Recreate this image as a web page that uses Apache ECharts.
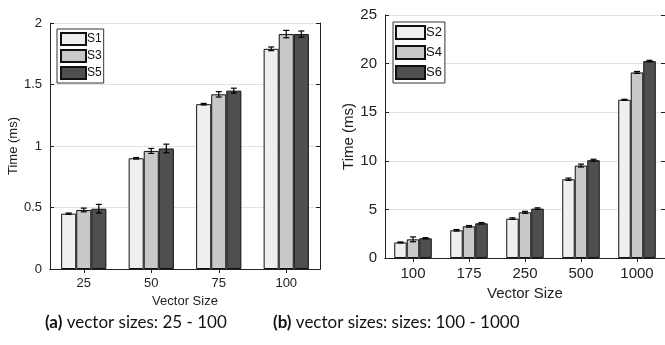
<!DOCTYPE html>
<html>
<head>
<meta charset="utf-8">
<script src="https://cdn.jsdelivr.net/npm/echarts@6/dist/echarts.min.js"></script>
<style>
  html, body { margin: 0; padding: 0; background: #fff; }
  #chart { width: 665px; height: 345px; }
</style>
</head>
<body>
<div id="chart"></div>
<script>
// (a) vector sizes 25 - 100
const catsA = ['25', '50', '75', '100']
const s1 = [0.45, 0.90, 1.34, 1.79]
const s3 = [0.48, 0.96, 1.42, 1.91]
const s5 = [0.49, 0.98, 1.45, 1.91]
const s1Err = [0.005, 0.006, 0.006, 0.015]
const s3Err = [0.015, 0.02, 0.022, 0.03]
const s5Err = [0.035, 0.035, 0.02, 0.025]

// (b) vector sizes 100 - 1000
const catsB = ['100', '175', '250', '500', '1000']
const s2 = [1.6, 2.85, 4.05, 8.1, 16.28]
const s4 = [1.92, 3.26, 4.7, 9.51, 19.09]
const s6 = [2.03, 3.57, 5.08, 10.06, 20.26]
const s2Err = [0.05, 0.08, 0.08, 0.12, 0.05]
const s4Err = [0.25, 0.08, 0.1, 0.15, 0.1]
const s6Err = [0.06, 0.08, 0.08, 0.1, 0.08]

const colors = ['#efefef', '#c8c8c8', '#4f4f4f']
const gapPct = 0.33

const chart = echarts.init(document.getElementById('chart'))

function barSeries(name, data, idx, axis) {
  return {
    name: name,
    type: 'bar',
    xAxisIndex: axis,
    yAxisIndex: axis,
    data: data,
    barGap: '0%',
    barCategoryGap: '33%',
    itemStyle: { color: colors[idx], borderColor: '#111', borderWidth: 1 },
    emphasis: { disabled: true },
    z: 2
  }
}

// error bars drawn on top of the bar at slot idx (0..2)
function errSeries(values, errs, idx, axis, capW) {
  return {
    type: 'custom',
    xAxisIndex: axis,
    yAxisIndex: axis,
    data: values.map((v, i) => [i, v, errs[i]]),
    z: 5,
    silent: true,
    renderItem: function (params, api) {
      const i = api.value(0)
      const v = api.value(1)
      const e = api.value(2)
      const band = api.size([1, 0])[0]
      const bw = band * (1 - gapPct) / 3
      const c = api.coord([i, v])
      const x = c[0] + (idx - 1) * bw
      const hi = api.coord([i, v + e])[1]
      const lo = api.coord([i, v - e])[1]
      const st = { stroke: '#000', lineWidth: 1.2 }
      return {
        type: 'group',
        children: [
          { type: 'line', shape: { x1: x, y1: hi, x2: x, y2: lo }, style: st },
          { type: 'line', shape: { x1: x - capW, y1: hi, x2: x + capW, y2: hi }, style: st },
          { type: 'line', shape: { x1: x - capW, y1: lo, x2: x + capW, y2: lo }, style: st }
        ]
      }
    }
  }
}

const axisLine = { show: true, lineStyle: { color: '#222', width: 1 } }
const font = 'Liberation Sans'

function xAxes(cats, grid, size, gap) {
  return [
    {
      type: 'category', gridIndex: grid, data: cats, position: 'bottom',
      axisLine: axisLine,
      axisTick: { show: true, inside: true, alignWithLabel: true, length: 4, lineStyle: { color: '#222' } },
      axisLabel: { color: '#222', fontFamily: font, fontSize: size, margin: 8 },
      name: 'Vector Size', nameLocation: 'middle', nameGap: gap,
      nameTextStyle: { color: '#222', fontFamily: font, fontSize: size }
    },
    {
      type: 'category', gridIndex: grid, data: cats, position: 'top',
      axisLine: axisLine,
      axisTick: { show: true, inside: true, alignWithLabel: true, length: 4, lineStyle: { color: '#222' } },
      axisLabel: { show: false }
    }
  ]
}

function yAxes(grid, max, interval, size, gap) {
  return [
    {
      type: 'value', gridIndex: grid, min: 0, max: max, interval: interval, position: 'left',
      axisLine: axisLine,
      axisTick: { show: true, inside: true, length: 4, lineStyle: { color: '#222' } },
      axisLabel: { color: '#222', fontFamily: font, fontSize: size, margin: 8 },
      splitLine: { show: true, lineStyle: { color: '#e2e2e2', width: 1 } },
      name: 'Time (ms)', nameLocation: 'middle', nameGap: gap,
      nameTextStyle: { color: '#222', fontFamily: font, fontSize: size }
    },
    {
      type: 'value', gridIndex: grid, min: 0, max: max, interval: interval, position: 'right',
      axisLine: axisLine,
      axisTick: { show: true, inside: true, length: 4, lineStyle: { color: '#222' } },
      axisLabel: { show: false },
      splitLine: { show: false }
    }
  ]
}

const xa = xAxes(catsA, 0, 13, 25).concat(xAxes(catsB, 1, 15, 28))
const ya = yAxes(0, 2, 0.5, 13, 28).concat(yAxes(1, 25, 5, 15, 24))

const legendBase = {
  orient: 'vertical',
  backgroundColor: '#fff',
  borderColor: '#333',
  borderWidth: 1,
  borderRadius: 0,
  icon: 'rect',
  selectedMode: false
}

const option = {
  animation: false,
  backgroundColor: '#fff',
  grid: [
    { left: 50, right: 345, top: 23, bottom: 76 },
    { left: 385, right: -2, top: 15, bottom: 87 }
  ],
  xAxis: [xa[0], xa[2], xa[1], xa[3]],
  yAxis: [ya[0], ya[2], ya[1], ya[3]],
  legend: [
    Object.assign({}, legendBase, {
      data: ['S1', 'S3', 'S5'], left: 57, top: 29,
      itemWidth: 25, itemHeight: 12, itemGap: 3, padding: [3, 2, 3, 3],
      textStyle: { fontFamily: font, fontSize: 12, color: '#111', padding: [0, 0, 0, -4] }
    }),
    Object.assign({}, legendBase, {
      data: ['S2', 'S4', 'S6'], left: 393, top: 22,
      itemWidth: 29, itemHeight: 13, itemGap: 5, padding: [3, 3, 3, 2],
      textStyle: { fontFamily: font, fontSize: 13, color: '#111', padding: [0, 0, 0, -4] }
    })
  ],
  title: [
    { text: '{b|(a)} vector sizes: 25 - 100', left: 40, top: 309,
      textStyle: { fontFamily: 'Lato', fontSize: 17, fontWeight: 'normal', color: '#111',
        rich: { b: { fontFamily: 'Lato', fontSize: 17, fontWeight: 'bold', color: '#111' } } } },
    { text: '{b|(b)} vector sizes: sizes: 100 - 1000', left: 268, top: 309,
      textStyle: { fontFamily: 'Lato', fontSize: 17, fontWeight: 'normal', color: '#111',
        rich: { b: { fontFamily: 'Lato', fontSize: 17, fontWeight: 'bold', color: '#111' } } } }
  ],
  series: [
    barSeries('S1', s1, 0, 0),
    barSeries('S3', s3, 1, 0),
    barSeries('S5', s5, 2, 0),
    barSeries('S2', s2, 0, 1),
    barSeries('S4', s4, 1, 1),
    barSeries('S6', s6, 2, 1),
    errSeries(s1, s1Err, 0, 0, 3),
    errSeries(s3, s3Err, 1, 0, 3),
    errSeries(s5, s5Err, 2, 0, 3),
    errSeries(s2, s2Err, 0, 1, 3),
    errSeries(s4, s4Err, 1, 1, 3),
    errSeries(s6, s6Err, 2, 1, 3)
  ]
}

chart.setOption(option)

window.addEventListener('resize', () => {
  chart.resize()
})
</script>
</body>
</html>
